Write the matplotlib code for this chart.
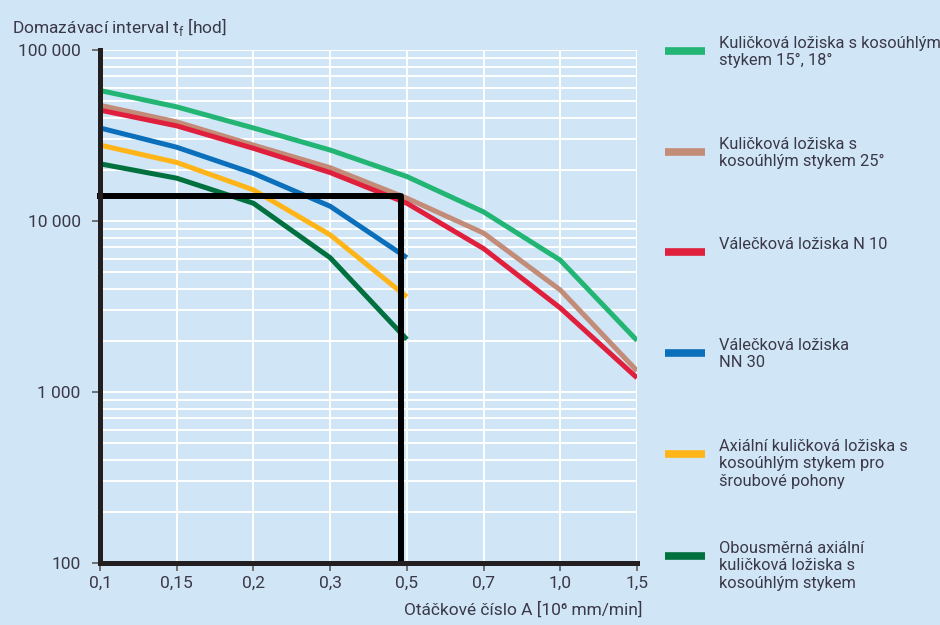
import numpy as np
import matplotlib
matplotlib.use("Agg")
from matplotlib import pyplot as plt
from matplotlib.lines import Line2D

# x axis categories (equally spaced)
x_labels = ["0,1", "0,15", "0,2", "0,3", "0,5", "0,7", "1,0", "1,5"]

# relubrication interval t_f [hod]
kulickova_15_18 = [58000, 46500, 35000, 26000, 18200, 11300, 5900, 2000]
kulickova_25 = [47500, 38000, 27800, 20500, 13600, 8500, 3950, 1330]
valeckova_n10 = [44500, 36000, 26600, 19200, 12700, 6900, 3100, 1210]
valeckova_nn30 = [35000, 27000, 19000, 12200, 6100]
axialni_sroub = [27800, 22000, 15200, 8300, 3600]
obousmerna = [21600, 17800, 12700, 6100, 2030]

series = [kulickova_15_18, kulickova_25, valeckova_n10,
          valeckova_nn30, axialni_sroub, obousmerna]
labels = [
    "Kuličková ložiska s kosoúhlým\nstykem 15°, 18°",
    "Kuličková ložiska s\nkosoúhlým stykem 25°",
    "Válečková ložiska N 10",
    "Válečková ložiska\nNN 30",
    "Axiální kuličková ložiska s\nkosoúhlým stykem pro\nšroubové pohony",
    "Obousměrná axiální\nkuličková ložiska s\nkosoúhlým stykem",
]
colors = ["#22b573", "#c38c78", "#e01f3d", "#0b6fbb", "#ffb517", "#00703f"]

# highlighted reading: interval limit and speed position
limit_value = 14000
limit_pos = 3.92

bg = "#d0e6f7"
txt = "#3b3847"
plt.rcParams['font.family'] = ['Roboto', 'DejaVu Sans']

fig = plt.figure(figsize=(9.4, 6.25), dpi=100, facecolor=bg)
ax = fig.add_axes([100 / 940, 1 - 563 / 625, 537 / 940, 513 / 625])
ax.set_facecolor(bg)

ax.set_yscale("log")
ax.set_ylim(100, 100000)
ax.set_xlim(0, len(x_labels) - 1)
ax.set_xticks(range(len(x_labels)))
ax.set_xticklabels(x_labels)
ax.set_yticks([100, 1000, 10000, 100000])
ax.set_yticklabels(["100", "1 000", "10 000", "100 000"])
ax.yaxis.set_minor_formatter(matplotlib.ticker.NullFormatter())

ax.grid(True, which="both", axis="y", color="white", lw=1.4)
ax.grid(True, which="major", axis="x", color="white", lw=1.4)
ax.set_axisbelow(True)

for s in ["top", "right"]:
    ax.spines[s].set_visible(False)
for s in ["left", "bottom"]:
    ax.spines[s].set_linewidth(3.6)
    ax.spines[s].set_color("#231f20")
    ax.spines[s].set_zorder(6)

ax.tick_params(axis="both", which="major", colors="#666666", width=1.3, length=6,
               labelsize=12.5, labelcolor=txt)
ax.tick_params(axis="y", which="minor", length=0)
ax.tick_params(axis="x", pad=3)
ax.tick_params(axis="y", pad=8)

for vals, c in zip(series, colors):
    ax.plot(range(len(vals)), vals, color=c, lw=3.6, solid_capstyle="butt", zorder=3)

# black frame marking the reading
ax.plot([0, limit_pos, limit_pos], [limit_value, limit_value, 100],
        color="black", lw=4.3, solid_capstyle="projecting", zorder=5, clip_on=False)

fig.text(12 / 940, 1 - 27 / 625, r"Domazávací interval t$_\mathregular{f}$ [hod]",
         fontsize=12.5, color=txt, va="center", ha="left")
fig.text(643 / 940, 1 - 610 / 625, "Otáčkové číslo A [10⁶ mm/min]",
         fontsize=12.5, color=txt, va="center", ha="right")

# legend on the right
legend_y = [51, 152, 252, 353, 454, 556]
for lab, c, yy in zip(labels, colors, legend_y):
    fig.add_artist(Line2D([665 / 940, 705 / 940], [1 - yy / 625] * 2,
                          color=c, lw=5.5, solid_capstyle="butt"))
    fig.text(719 / 940, 1 - (yy - 15) / 625, lab, fontsize=11.8, color=txt,
             va="top", ha="left", linespacing=1.2)

fig.savefig("out.png", dpi=100, facecolor=bg)
